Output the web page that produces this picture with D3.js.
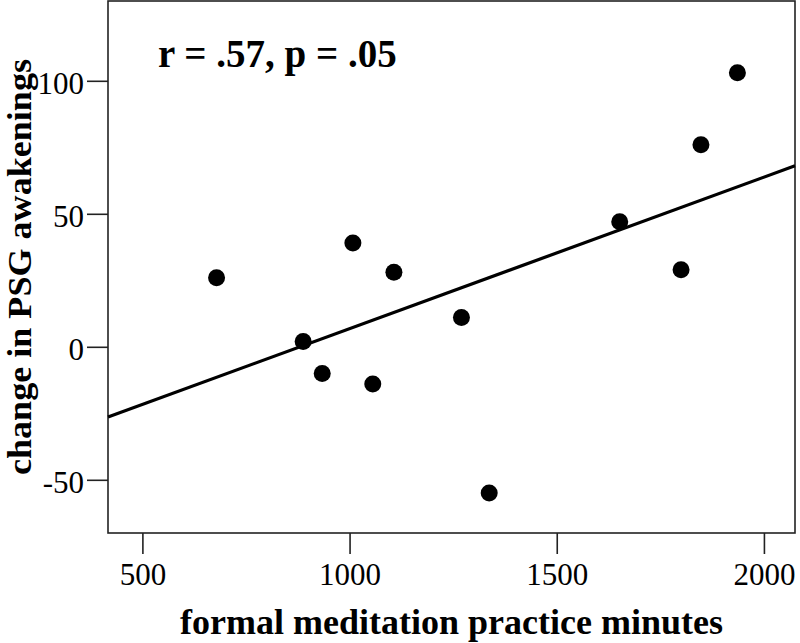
<!DOCTYPE html>
<html>
<head>
<meta charset="utf-8">
<script src="https://cdn.jsdelivr.net/npm/d3@7"></script>
<style>
  html, body { margin: 0; padding: 0; background: #fff; }
  svg { display: block; }
  text { font-family: "Liberation Serif", "Times New Roman", serif; fill: #000; }
</style>
</head>
<body>
<svg id="chart" width="800" height="643"></svg>
<script>
// Data
const minutes = [679, 1008, 1107, 1270, 888, 934, 1056, 1337, 1936, 1848, 1652, 1800];
const awakeningsChange = [26, 39, 28, 11, 2, -10, -14, -55, 103, 76, 47, 29];
const xTicks = [500, 1000, 1500, 2000];
const yTicks = [-50, 0, 50, 100];
const xDomain = [417, 2075];
const yDomain = [-70, 130];
const annotation = "r = .57, p = .05";
const xTitle = "formal meditation practice minutes";
const yTitle = "change in PSG awakenings";

const svg = d3.select("#chart");
const plot = { left: 108, right: 795, top: 1, bottom: 533 };

const x = d3.scaleLinear().domain(xDomain).range([plot.left, plot.right]);
const y = d3.scaleLinear().domain(yDomain).range([plot.bottom, plot.top]);

// frame
svg.append("rect")
  .attr("x", plot.left).attr("y", plot.top)
  .attr("width", plot.right - plot.left).attr("height", plot.bottom - plot.top)
  .attr("fill", "none").attr("stroke", "#222").attr("stroke-width", 1.6);

// axes (hyphen-minus as in the reference)
const fmt = d => String(d);
const xAxis = svg.append("g")
  .attr("transform", `translate(0,${plot.bottom})`)
  .call(d3.axisBottom(x).tickValues(xTicks).tickSize(21).tickPadding(9).tickFormat(fmt));
const yAxis = svg.append("g")
  .attr("transform", `translate(${plot.left},0)`)
  .call(d3.axisLeft(y).tickValues(yTicks).tickSize(21).tickPadding(3).tickFormat(fmt));

[xAxis, yAxis].forEach(g => {
  g.select(".domain").remove();
  g.selectAll(".tick line").attr("stroke", "#222").attr("stroke-width", 1.6);
  g.selectAll(".tick text")
    .attr("font-family", '"Liberation Serif", "Times New Roman", serif')
    .attr("font-size", 31).attr("fill", "#000");
});
yAxis.selectAll(".tick text").attr("dy", "0.42em");
xAxis.selectAll(".tick text").attr("dy", "0.72em");

// regression line (least squares from the data)
const n = minutes.length;
const mx = d3.mean(minutes), my = d3.mean(awakeningsChange);
let sxy = 0, sxx = 0;
for (let i = 0; i < n; i++) {
  sxy += (minutes[i] - mx) * (awakeningsChange[i] - my);
  sxx += (minutes[i] - mx) ** 2;
}
const slope = sxy / sxx, intercept = my - slope * mx;
svg.append("line")
  .attr("x1", x(xDomain[0])).attr("y1", y(intercept + slope * xDomain[0]))
  .attr("x2", x(xDomain[1])).attr("y2", y(intercept + slope * xDomain[1]))
  .attr("stroke", "#000").attr("stroke-width", 3.2);

// points
svg.append("g").selectAll("circle")
  .data(minutes.map((m, i) => ({ m, v: awakeningsChange[i] })))
  .join("circle")
  .attr("cx", d => x(d.m)).attr("cy", d => y(d.v))
  .attr("r", 8.5).attr("fill", "#000");

// annotation
svg.append("text")
  .attr("x", 158).attr("y", 67)
  .attr("font-size", 39).attr("font-weight", "bold")
  .text(annotation);

// axis titles
svg.append("text")
  .attr("x", (plot.left + plot.right) / 2).attr("y", 634)
  .attr("text-anchor", "middle")
  .attr("font-size", 36).attr("font-weight", "bold")
  .text(xTitle);

svg.append("text")
  .attr("transform", `translate(31,${(plot.top + plot.bottom) / 2}) rotate(-90)`)
  .attr("text-anchor", "middle")
  .attr("font-size", 34).attr("font-weight", "bold")
  .attr("textLength", 416).attr("lengthAdjust", "spacingAndGlyphs")
  .text(yTitle);
</script>
</body>
</html>
